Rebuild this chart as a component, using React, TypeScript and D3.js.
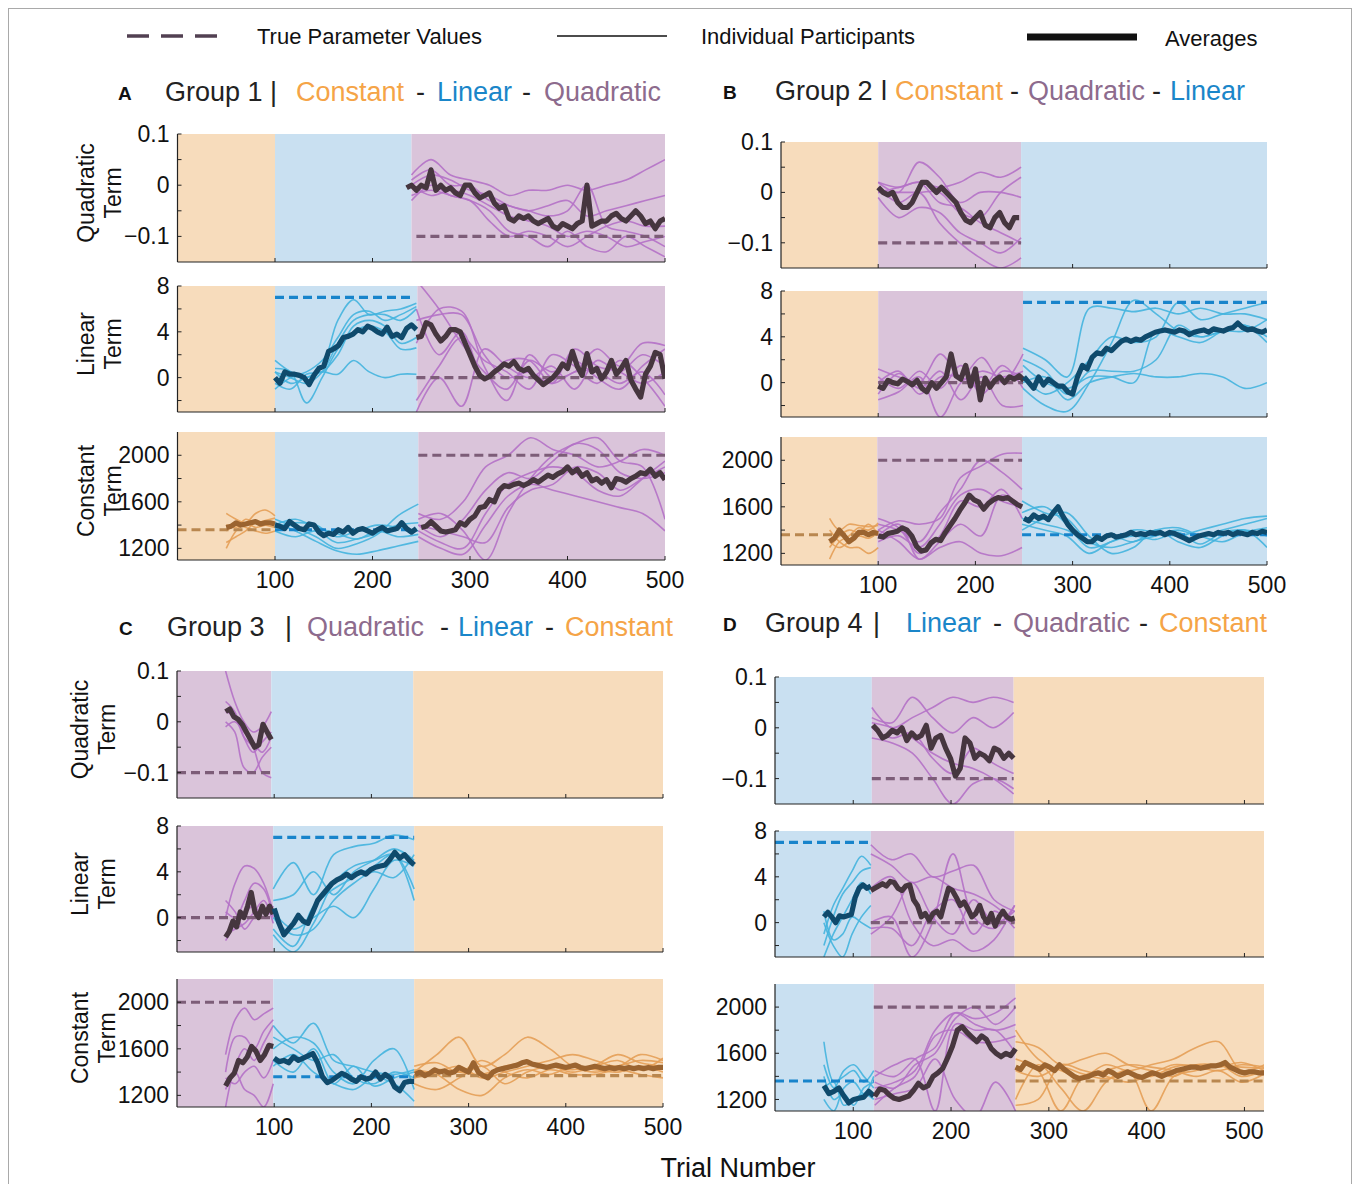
import React from "react";
import * as d3 from "d3";

type Cond = "Q" | "L" | "C";

// colours per model condition
const condColor: Record<Cond, { band: string; ind: string; avg: string; truth: string; title: string }> = {
  Q: { band: "#dac4da", ind: "#b471c6", avg: "#46363f", truth: "#7d5d78", title: "#8d6b8d" },
  L: { band: "#c9e0f1", ind: "#44b4de", avg: "#0f4a6c", truth: "#1884cb", title: "#1a86c9" },
  C: { band: "#f7dcbc", ind: "#e49e56", avg: "#9b6430", truth: "#b9874f", title: "#f5a447" },
};

const xTickValues = [100, 200, 300, 400, 500];
const yDomain: Record<Cond, [number, number]> = { Q: [-0.15, 0.1], L: [-3, 8], C: [1100, 2200] };
const yTickMarks: Record<Cond, number[]> = {
  Q: [-0.1, -0.05, 0, 0.05, 0.1],
  L: [-2, 0, 2, 4, 6, 8],
  C: [1200, 1400, 1600, 1800, 2000],
};
const yTickLabels: Record<Cond, [number, string][]> = {
  Q: [[-0.1, "\u22120.1"], [0, "0"], [0.1, "0.1"]],
  L: [[0, "0"], [4, "4"], [8, "8"]],
  C: [[1200, "1200"], [1600, "1600"], [2000, "2000"]],
};

// ---------- Group 1 (A) ----------
const aQuadAvg = [
  -0.005, 0.0, -0.01, 0.0, -0.005, 0.03, -0.01, 0.0, -0.01, -0.005,
  -0.015, -0.02, 0.0, 0.0, -0.015, -0.025, -0.02, -0.015, -0.035, -0.045,
  -0.04, -0.065, -0.07, -0.06, -0.065, -0.06, -0.07, -0.075, -0.07, -0.065,
  -0.08, -0.085, -0.075, -0.08, -0.085, -0.075, -0.07, 0.0, -0.08, -0.075,
  -0.07, -0.07, -0.06, -0.055, -0.065, -0.07, -0.06, -0.05, -0.06, -0.075,
  -0.07, -0.085, -0.07, -0.065,
];
const aQuadInd = [
  [0.02, 0.05, 0.02, 0.01, 0.0, -0.02, -0.01, -0.01, 0.0, -0.01, 0.0, 0.01, 0.03, 0.05],
  [0.01, 0.03, 0.0, 0.0, -0.03, -0.04, -0.05, -0.04, -0.03, -0.06, -0.05, -0.04, -0.03, -0.02],
  [-0.02, -0.01, -0.02, -0.03, -0.05, -0.09, -0.1, -0.12, -0.09, -0.12, -0.13, -0.1, -0.12, -0.14],
  [0.0, -0.02, -0.01, -0.02, -0.04, -0.06, -0.07, -0.08, -0.1, -0.09, -0.1, -0.12, -0.11, -0.1],
  [-0.03, 0.0, -0.02, -0.03, -0.07, -0.1, -0.09, -0.1, -0.12, -0.1, -0.08, -0.07, -0.08, -0.08],
  [0.0, 0.02, 0.01, -0.01, -0.02, -0.04, -0.05, -0.06, -0.05, 0.0, -0.08, -0.09, -0.1, -0.12],
];
const aLinBlueAvg = [
  0, -0.5, 0.5, 0.3, 0.3, 0.2, 0.0, -0.6, 0.2, 0.8,
  1.0, 2.3, 2.5, 2.8, 3.5, 3.6, 3.8, 4.2, 4.0, 4.5,
  4.3, 4.0, 3.8, 4.4, 3.6, 3.8, 3.5, 4.3, 4.6, 4.2,
];
const aLinBlueInd = [
  [1.5, 0.5, 0.0, 1.0, 5.0, 6.8, 5.5, 5.8, 6.0, 6.5],
  [0.5, 0.0, -0.5, 0.5, 3.0, 5.0, 5.5, 5.5, 5.0, 6.0],
  [-0.5, -1.0, 0.3, 0.5, 2.0, 4.5, 5.0, 4.5, 3.0, 3.5],
  [0.8, 0.5, -2.2, 0.0, 2.5, 4.0, 4.5, 4.0, 2.5, 2.6],
  [0.5, -0.5, 0.0, 0.5, 0.3, 1.5, 0.5, 0.0, 0.3, 0.3],
  [-1.0, 0.0, 0.5, 1.5, 3.5, 5.5, 5.8, 5.0, 5.5, 6.2],
];
const aLinPurpleAvg = [
  3.5, 3.6, 4.8, 4.6, 3.8, 3.2, 3.6, 4.2, 4.2, 4.0,
  3.0, 2.0, 1.0, 0.2, -0.1, 0.1, 0.5, 0.8, 1.2, 1.0,
  1.4, 0.8, 0.6, 0.8, 0.2, -0.2, -0.6, -0.3, 0.0, 0.5,
  1.2, 0.8, 2.3, 1.0, 0.2, 2.1, 0.5, 0.8, -0.1, 0.5,
  1.5, 0.3, 0.8, 1.5, -0.2, -1.0, -1.7, 0.3, 1.0, 2.2,
  2.0, -0.1,
];
const aLinPurpleInd = [
  [8.5, 6.0, 3.0, 0.5, -1.0, 1.5, 0.5, 1.5, 0.0, -1.0, 1.0, 2.5],
  [5.0, 5.5, 5.5, 2.0, 0.0, 0.5, -0.5, 2.5, 1.0, 0.5, -0.5, 0.5],
  [3.0, 6.0, 5.8, 1.0, -2.0, 2.0, 0.0, 0.5, 2.5, 1.0, 3.0, 2.8],
  [-2.0, 1.0, 3.5, 1.5, 0.5, -1.0, 2.0, 1.0, -0.5, 1.5, 0.0, -2.5],
  [-3.0, 0.0, -2.5, 2.5, 1.0, 0.0, 1.0, -1.0, 1.5, 0.5, 2.0, 1.0],
  [6.0, 2.0, 4.0, 0.0, 1.5, 1.5, -0.5, 0.5, 0.5, -0.5, 0.5, -1.5],
];
const aConOrangeAvg = [1380, 1390, 1420, 1400, 1410, 1420, 1430, 1410, 1420, 1420, 1410];
const aConOrangeInd = [
  [1500, 1450, 1420, 1500, 1530, 1480],
  [1250, 1300, 1350, 1420, 1400, 1380],
  [1400, 1380, 1450, 1420, 1440, 1460],
  [1350, 1400, 1380, 1350, 1330, 1350],
  [1200, 1350, 1420, 1380, 1400, 1420],
];
const aConBlueAvg = [
  1400, 1390, 1370, 1430, 1400, 1370, 1360, 1410, 1400, 1340,
  1310, 1330, 1320, 1360, 1340, 1380, 1330, 1360, 1370, 1350,
  1330, 1360, 1380, 1350, 1360, 1370, 1420, 1370, 1340, 1370,
];
const aConBlueInd = [
  [1450, 1380, 1300, 1200, 1240, 1320, 1480, 1580],
  [1420, 1350, 1260, 1180, 1150, 1180, 1220, 1260],
  [1380, 1420, 1400, 1300, 1350, 1400, 1380, 1350],
  [1350, 1300, 1350, 1250, 1280, 1330, 1400, 1420],
  [1400, 1450, 1380, 1330, 1280, 1350, 1300, 1320],
];
const aConPurpleAvg = [
  1380, 1390, 1430, 1390, 1350, 1340, 1350, 1360, 1420, 1400,
  1450, 1480, 1550, 1560, 1620, 1600, 1700, 1740, 1730, 1750,
  1760, 1740, 1760, 1790, 1770, 1800, 1830, 1810, 1840, 1860,
  1900, 1850, 1880, 1820, 1850, 1780, 1800, 1760, 1790, 1720,
  1800, 1790, 1770, 1800, 1820, 1850, 1840, 1880, 1820, 1850,
  1790,
];
const aConPurpleInd = [
  [1500, 1450, 1600, 1900, 2000, 2150, 2050, 2000, 1900, 1950, 2050, 2000],
  [1400, 1300, 1450, 1700, 1850, 1800, 1950, 2100, 2050, 1850, 1800, 1850],
  [1350, 1250, 1200, 1500, 1750, 1850, 1900, 1850, 1700, 1650, 1800, 1950],
  [1300, 1200, 1150, 1400, 1650, 1750, 1700, 1650, 1600, 1550, 1500, 1350],
  [1450, 1500, 1350, 1100, 1500, 1800, 2000, 2100, 2150, 1950, 1900, 1450],
  [1400, 1350, 1300, 1250, 1550, 1700, 1750, 1900, 1850, 1700, 1800, 1900],
];

// ---------- Group 2 (B) ----------
const bQuadAvg = [
  0.01, 0.0, -0.005, 0.0, -0.02, -0.03, -0.03, -0.02, 0.0, 0.02,
  0.02, 0.01, 0.0, 0.01, 0.0, -0.01, -0.02, -0.04, -0.055, -0.06,
  -0.05, -0.04, -0.065, -0.07, -0.05, -0.04, -0.06, -0.07, -0.05, -0.05,
];
const bQuadInd = [
  [0.02, 0.0, 0.06, 0.03, -0.02, 0.0, 0.0, -0.01],
  [0.0, 0.01, 0.02, 0.01, 0.02, 0.04, 0.03, 0.05],
  [-0.01, -0.05, -0.03, -0.04, -0.08, -0.1, -0.12, -0.09],
  [0.01, -0.02, 0.0, -0.06, -0.1, -0.13, -0.15, -0.13],
  [0.02, 0.01, 0.02, -0.02, -0.03, -0.06, -0.08, -0.1],
  [0.0, 0.0, 0.0, 0.0, -0.04, -0.05, 0.0, 0.03],
];
const bLinPurpleAvg = [
  -0.3, -0.5, 0.2, 0.0, -0.1, 0.3, 0.1, -0.2, 0.2, -0.5,
  -0.8, 0.0, -0.5, 0.0, 0.5, 2.5, 0.6, 0.3, 1.5, -0.3,
  1.2, -1.5, 0.4, -0.4, 0.2, 0.5, 0.0, 0.5, 0.3, 0.6,
  0.2,
];
const bLinPurpleInd = [
  [1.2, 0.5, 0.0, 2.5, 0.5, 2.2, 0.0, 2.5],
  [-1.0, 0.8, -0.5, 1.0, -1.5, 0.5, -2.0, -2.0],
  [0.5, -0.5, 1.0, -0.5, 1.5, -1.0, 1.0, 0.5],
  [-1.5, -0.8, 0.5, -3.0, 0.0, 1.0, 0.5, 1.0],
  [0.0, 1.0, -1.0, 0.5, 0.5, -0.5, 1.5, -0.5],
];
const bLinBlueAvg = [
  0.5, 0.0, -0.5, 0.5, -0.2, 0.3, 0.0, -0.3, -0.3, -0.8,
  -1.0, 0.5, 1.5, 1.2, 2.2, 2.6, 2.5, 3.0, 2.8, 3.2,
  3.6, 3.8, 3.6, 3.8, 3.7, 4.0, 4.2, 4.4, 4.5, 4.6,
  4.5, 4.4, 4.6, 4.5, 4.2, 4.4, 4.5, 4.6, 4.4, 4.7,
  4.6, 4.5, 4.7, 4.8, 5.2, 4.8, 4.6, 4.7, 4.5, 4.4,
  4.6,
];
const bLinBlueInd = [
  [3.0, 2.0, 0.5, 6.5, 6.5, 6.2, 6.5, 6.0, 6.5, 6.0, 6.0, 5.5],
  [0.5, -1.0, 0.0, 2.0, 4.0, 3.5, 4.0, 7.0, 5.5, 6.0, 6.5, 7.0],
  [-0.5, -2.0, -2.5, 0.0, 3.5, 7.2, 6.0, 4.5, 4.0, 4.5, 5.0, 4.0],
  [1.5, 0.0, -0.5, 0.5, 0.5, 0.0, 4.5, 4.0, 3.5, 4.5, 5.0, 3.5],
  [0.0, 0.5, -1.5, 0.0, 0.5, 0.8, 0.5, 0.5, 0.8, 0.5, -0.5, 0.0],
  [2.0, 1.0, -1.0, 1.0, 1.0, 1.0, 2.0, 5.0, 4.0, 4.5, 4.5, 5.5],
];
const bConOrangeAvg = [1300, 1330, 1400, 1350, 1300, 1330, 1380, 1380, 1360, 1380, 1370];
const bConOrangeInd = [
  [1500, 1400, 1450, 1440, 1430, 1440],
  [1150, 1300, 1350, 1420, 1400, 1460],
  [1400, 1300, 1250, 1250, 1200, 1250],
  [1300, 1250, 1300, 1350, 1330, 1380],
  [1250, 1350, 1400, 1380, 1450, 1360],
];
const bConPurpleAvg = [
  1350, 1340, 1370, 1380, 1390, 1420, 1400, 1350, 1260, 1220,
  1230, 1290, 1320, 1310, 1380, 1440, 1500, 1570, 1630, 1700,
  1660, 1640, 1580, 1630, 1660, 1680, 1670, 1680, 1650, 1620,
  1600,
];
const bConPurpleInd = [
  [1400, 1480, 1450, 1500, 1850, 1950, 2050, 2060],
  [1450, 1400, 1300, 1550, 1750, 2000, 1900, 1750],
  [1300, 1350, 1250, 1450, 1700, 1750, 1650, 1600],
  [1350, 1450, 1150, 1300, 1450, 1350, 1700, 1600],
  [1400, 1300, 1150, 1250, 1300, 1200, 1180, 1250],
  [1500, 1420, 1200, 1350, 1650, 1600, 1750, 1500],
];
const bConBlueAvg = [
  1500, 1480, 1530, 1500, 1520, 1490, 1550, 1600, 1520, 1450,
  1400, 1360, 1330, 1300, 1300, 1340, 1320, 1350, 1360, 1340,
  1350, 1360, 1380, 1360, 1370, 1360, 1380, 1370, 1380, 1360,
  1380, 1370, 1350, 1330, 1310, 1330, 1350, 1360, 1370, 1360,
  1380, 1370, 1380, 1360, 1380, 1370, 1360, 1380, 1370, 1390,
  1380,
];
const bConBlueInd = [
  [1650, 1550, 1500, 1300, 1250, 1300, 1350, 1400, 1350, 1400, 1450, 1500],
  [1550, 1600, 1450, 1250, 1300, 1400, 1380, 1350, 1400, 1450, 1500, 1520],
  [1400, 1500, 1550, 1350, 1200, 1250, 1400, 1300, 1250, 1350, 1400, 1250],
  [1450, 1400, 1350, 1200, 1300, 1350, 1320, 1380, 1280, 1380, 1400, 1350],
  [1500, 1450, 1400, 1300, 1350, 1300, 1400, 1420, 1350, 1300, 1380, 1420],
];

// ---------- Group 3 (C) ----------
const cQuadAvg = [0.02, 0.025, 0.01, 0.005, -0.005, -0.02, -0.035, -0.05, -0.045, -0.005, -0.02, -0.035];
const cQuadInd = [
  [0.1, 0.04, 0.0, -0.02, -0.01, 0.02],
  [0.04, 0.02, -0.03, -0.06, -0.04, -0.02],
  [0.0, -0.02, -0.09, -0.1, -0.07, -0.05],
  [0.02, 0.01, -0.03, -0.05, -0.1, -0.11],
  [-0.01, 0.0, -0.02, -0.04, -0.06, -0.03],
];
const cLinPurpleAvg = [-1.7, -1.2, -0.3, -0.8, 0.5, 0.0, 1.0, 2.2, 0.5, 0.0, 1.0, 0.3, 1.0, 0.3];
const cLinPurpleInd = [
  [0.0, 3.0, 4.5, 4.3, 3.0, 0.5],
  [-2.0, -0.5, 1.5, 3.0, 2.5, 0.0],
  [0.5, 0.0, 0.5, 1.0, 0.0, 1.0],
  [-1.5, -1.0, -0.5, 0.5, 1.5, -0.5],
  [1.5, 0.5, -1.0, 0.0, 0.5, 1.0],
];
const cLinBlueAvg = [
  0.8, -0.5, -1.5, -1.0, -0.5, 0.2, -0.3, -0.5, 0.5, 1.5,
  2.0, 2.5, 3.0, 3.3, 3.5, 3.8, 3.5, 3.8, 4.0, 3.8,
  4.2, 4.4, 4.5, 4.6, 5.1, 5.7, 5.2, 5.5, 5.0, 4.6,
];
const cLinBlueInd = [
  [2.5, 4.8, 2.0, 5.5, 6.2, 6.5, 7.2, 6.8],
  [1.5, 2.0, 4.0, 2.0, 4.0, 5.0, 6.0, 5.0],
  [-1.0, -2.5, 1.0, 2.5, 3.5, 4.5, 5.5, 2.5],
  [0.0, -1.5, -1.0, 1.5, 3.0, 4.0, 3.5, 5.5],
  [0.5, -1.0, 0.0, 1.0, 0.0, 2.5, 5.0, 4.5],
  [-1.5, -3.0, -0.5, 3.0, 4.5, 5.0, 5.5, 1.5],
];
const cConPurpleAvg = [1280, 1350, 1390, 1500, 1480, 1530, 1620, 1580, 1500, 1550, 1630, 1620];
const cConPurpleInd = [
  [1550, 1850, 1950, 1850, 1900, 1950],
  [1400, 1700, 1700, 1600, 1750, 1850],
  [1100, 1450, 1600, 1500, 1650, 1800],
  [1350, 1300, 1400, 1450, 1350, 1500],
  [1250, 1400, 1250, 1200, 1100, 1300],
];
const cConBlueAvg = [
  1520, 1490, 1500, 1480, 1530, 1500, 1520, 1540, 1560, 1480,
  1360, 1310, 1330, 1360, 1390, 1370, 1340, 1320, 1360, 1340,
  1350, 1400, 1340, 1380, 1350, 1270, 1240, 1310, 1320, 1320,
];
const cConBlueInd = [
  [1800, 1650, 1820, 1500, 1450, 1400, 1380, 1420],
  [1700, 1600, 1500, 1550, 1350, 1300, 1400, 1350],
  [1600, 1700, 1650, 1400, 1300, 1500, 1600, 1250],
  [1450, 1550, 1400, 1300, 1250, 1350, 1300, 1150],
  [1500, 1400, 1600, 1300, 1450, 1280, 1350, 1400],
];
const cConOrangeAvg = [
  1380, 1400, 1370, 1390, 1420, 1400, 1410, 1390, 1400, 1440,
  1420, 1400, 1480, 1400, 1370, 1350, 1400, 1420, 1430, 1440,
  1450, 1460, 1480, 1490, 1470, 1460, 1450, 1440, 1450, 1460,
  1450, 1440, 1450, 1460, 1440, 1430, 1440, 1450, 1440, 1430,
  1440, 1430, 1440, 1430, 1440, 1430, 1440, 1430, 1440, 1430,
  1440, 1440,
];
const cConOrangeInd = [
  [1400, 1550, 1700, 1450, 1550, 1700, 1600, 1450, 1400, 1450, 1500, 1480],
  [1350, 1400, 1450, 1350, 1400, 1450, 1500, 1550, 1500, 1450, 1550, 1500],
  [1300, 1250, 1350, 1450, 1300, 1400, 1450, 1400, 1450, 1500, 1420, 1520],
  [1420, 1380, 1250, 1200, 1350, 1420, 1380, 1450, 1420, 1400, 1450, 1400],
  [1450, 1480, 1400, 1500, 1400, 1350, 1420, 1380, 1380, 1420, 1380, 1350],
  [1350, 1420, 1400, 1380, 1450, 1480, 1450, 1420, 1460, 1550, 1480, 1450],
];

// ---------- Group 4 (D) ----------
const dQuadAvg = [
  0.005, -0.005, -0.02, -0.015, -0.005, -0.01, 0.0, -0.025, -0.01, -0.02,
  -0.015, 0.005, -0.04, -0.02, -0.015, -0.04, -0.06, -0.095, -0.08, -0.02,
  -0.03, -0.06, -0.05, -0.055, -0.065, -0.04, -0.045, -0.06, -0.05, -0.06,
];
const dQuadInd = [
  [0.04, 0.0, 0.02, 0.04, 0.06, 0.05, 0.06, 0.05],
  [0.02, 0.01, 0.06, 0.02, -0.01, 0.02, 0.0, 0.03],
  [0.0, -0.02, -0.01, -0.06, -0.09, -0.04, -0.07, -0.09],
  [-0.02, -0.03, -0.05, -0.1, -0.15, -0.11, -0.1, -0.12],
  [0.01, 0.0, -0.02, -0.05, -0.07, -0.08, -0.1, -0.13],
];
const dLinBlueAvg = [0.5, 0.9, 0.5, 0.0, 0.6, 0.5, 0.6, 0.7, 2.2, 3.0, 3.3, 3.0, 3.2];
const dLinBlueInd = [
  [-1.0, 1.5, 3.0, 4.5, 5.8, 5.0],
  [-2.0, 0.5, 2.5, 3.5, 4.5, 4.8],
  [-3.0, -1.0, 0.5, 2.0, 3.5, 2.5],
  [0.0, -2.0, -3.0, -1.0, 0.5, 1.5],
  [1.0, -1.5, -1.0, 0.5, 0.0, -0.5],
];
const dLinPurpleAvg = [
  2.8, 3.0, 3.2, 3.4, 3.2, 3.6, 3.5, 3.0, 2.8, 3.2,
  3.3, 2.0, 1.5, 0.5, 0.8, 0.2, 0.8, 1.0, 0.5, 1.8,
  3.0, 2.8, 2.2, 1.5, 1.8, 1.2, 0.5, 0.8, 1.5, 0.5,
  0.0, 0.8, -0.3, 0.5, 1.0, 0.5, 0.3, 0.4,
];
const dLinPurpleInd = [
  [6.8, 5.5, 6.0, 4.0, 4.5, 5.0, 2.0, 1.0],
  [6.0, 5.0, 3.5, 4.0, 3.0, 2.5, 1.5, 0.0],
  [0.0, 0.5, -3.0, 0.0, 6.0, 0.5, -0.5, 1.5],
  [-1.0, 0.5, 3.5, 0.5, -1.0, 2.0, 0.0, 1.0],
  [3.0, 4.0, 0.0, -2.0, -1.5, -2.5, -1.5, 1.5],
  [-0.5, -0.5, -2.0, 1.0, 2.0, -1.0, 1.0, -0.5],
];
const dConBlueAvg = [1320, 1250, 1270, 1300, 1230, 1170, 1200, 1210, 1220, 1270, 1230];
const dConBlueInd = [
  [1700, 1350, 1400, 1450, 1350, 1450],
  [1500, 1300, 1450, 1500, 1400, 1300],
  [1200, 1100, 1300, 1350, 1250, 1400],
  [1400, 1200, 1250, 1150, 1300, 1350],
  [1300, 1350, 1150, 1200, 1250, 1200],
];
const dConPurpleAvg = [
  1227, 1290, 1280, 1240, 1210, 1200, 1215, 1230, 1280, 1340,
  1300, 1320, 1400, 1430, 1470, 1560, 1660, 1800, 1830, 1780,
  1740, 1700, 1750, 1720, 1640, 1600, 1570, 1600, 1580, 1640,
];
const dConPurpleInd = [
  [1450, 1400, 1550, 1650, 1950, 1900, 1950, 2080],
  [1350, 1300, 1500, 1600, 1900, 2000, 1850, 2000],
  [1300, 1350, 1450, 1800, 1950, 1850, 1800, 1850],
  [1150, 1300, 1400, 1750, 1800, 1700, 1700, 1750],
  [1400, 1500, 1550, 1100, 1850, 1800, 1800, 1600],
  [1200, 1250, 1300, 1550, 1200, 1050, 1350, 1100],
];
const dConOrangeAvg = [
  1480, 1460, 1520, 1500, 1480, 1460, 1500, 1480, 1450, 1500,
  1460, 1430, 1400, 1380, 1390, 1400, 1420, 1430, 1410, 1450,
  1430, 1400, 1420, 1440, 1420, 1400, 1390, 1410, 1430, 1420,
  1400, 1420, 1430, 1450, 1460, 1470, 1480, 1480, 1470, 1480,
  1490, 1490, 1500, 1520, 1480, 1460, 1440, 1430, 1440, 1440,
  1430, 1430,
];
const dConOrangeInd = [
  [1800, 1550, 1450, 1400, 1500, 1450, 1500, 1550, 1650, 1700, 1450, 1500],
  [1700, 1650, 1500, 1550, 1600, 1500, 1450, 1400, 1500, 1500, 1480, 1470],
  [1200, 1500, 1300, 1100, 1350, 1450, 1100, 1400, 1450, 1500, 1400, 1450],
  [1550, 1450, 1100, 1400, 1450, 1500, 1480, 1450, 1400, 1450, 1350, 1420],
  [1150, 1200, 1500, 1450, 1400, 1350, 1420, 1500, 1480, 1450, 1500, 1480],
  [1450, 1400, 1480, 1420, 1380, 1420, 1400, 1480, 1500, 1480, 1520, 1450],
];

type Seg = { panel: string; cond: Cond; avgSpan: [number, number]; avg: number[]; indSpan: [number, number]; ind: number[][] };

const segments: Seg[] = [
  { panel: "AQ", cond: "Q", avgSpan: [235, 500], avg: aQuadAvg, indSpan: [240, 500], ind: aQuadInd },
  { panel: "AL", cond: "L", avgSpan: [100, 245], avg: aLinBlueAvg, indSpan: [100, 245], ind: aLinBlueInd },
  { panel: "AL", cond: "Q", avgSpan: [245, 500], avg: aLinPurpleAvg, indSpan: [245, 500], ind: aLinPurpleInd },
  { panel: "AC", cond: "C", avgSpan: [50, 100], avg: aConOrangeAvg, indSpan: [50, 100], ind: aConOrangeInd },
  { panel: "AC", cond: "L", avgSpan: [100, 245], avg: aConBlueAvg, indSpan: [100, 247], ind: aConBlueInd },
  { panel: "AC", cond: "Q", avgSpan: [250, 500], avg: aConPurpleAvg, indSpan: [247, 500], ind: aConPurpleInd },
  { panel: "BQ", cond: "Q", avgSpan: [100, 245], avg: bQuadAvg, indSpan: [100, 247], ind: bQuadInd },
  { panel: "BL", cond: "Q", avgSpan: [100, 250], avg: bLinPurpleAvg, indSpan: [100, 249], ind: bLinPurpleInd },
  { panel: "BL", cond: "L", avgSpan: [250, 500], avg: bLinBlueAvg, indSpan: [249, 500], ind: bLinBlueInd },
  { panel: "BC", cond: "C", avgSpan: [50, 100], avg: bConOrangeAvg, indSpan: [50, 100], ind: bConOrangeInd },
  { panel: "BC", cond: "Q", avgSpan: [100, 248], avg: bConPurpleAvg, indSpan: [100, 248], ind: bConPurpleInd },
  { panel: "BC", cond: "L", avgSpan: [250, 500], avg: bConBlueAvg, indSpan: [248, 500], ind: bConBlueInd },
  { panel: "CQ", cond: "Q", avgSpan: [50, 97], avg: cQuadAvg, indSpan: [50, 97], ind: cQuadInd },
  { panel: "CL", cond: "Q", avgSpan: [50, 99], avg: cLinPurpleAvg, indSpan: [50, 99], ind: cLinPurpleInd },
  { panel: "CL", cond: "L", avgSpan: [100, 244], avg: cLinBlueAvg, indSpan: [99, 244], ind: cLinBlueInd },
  { panel: "CC", cond: "Q", avgSpan: [50, 99], avg: cConPurpleAvg, indSpan: [50, 99], ind: cConPurpleInd },
  { panel: "CC", cond: "L", avgSpan: [100, 244], avg: cConBlueAvg, indSpan: [99, 244], ind: cConBlueInd },
  { panel: "CC", cond: "C", avgSpan: [245, 500], avg: cConOrangeAvg, indSpan: [244, 500], ind: cConOrangeInd },
  { panel: "DQ", cond: "Q", avgSpan: [120, 264], avg: dQuadAvg, indSpan: [119, 264], ind: dQuadInd },
  { panel: "DL", cond: "L", avgSpan: [70, 118], avg: dLinBlueAvg, indSpan: [70, 118], ind: dLinBlueInd },
  { panel: "DL", cond: "Q", avgSpan: [118, 265], avg: dLinPurpleAvg, indSpan: [118, 265], ind: dLinPurpleInd },
  { panel: "DC", cond: "L", avgSpan: [70, 121], avg: dConBlueAvg, indSpan: [70, 121], ind: dConBlueInd },
  { panel: "DC", cond: "Q", avgSpan: [122, 266], avg: dConPurpleAvg, indSpan: [122, 266], ind: dConPurpleInd },
  { panel: "DC", cond: "C", avgSpan: [266, 520], avg: dConOrangeAvg, indSpan: [266, 520], ind: dConOrangeInd },
];

// true parameter values: panel, condition, value, from trial, to trial
const truths: [string, Cond, number, number, number][] = [
  ["AQ", "Q", -0.1, 245, 500],
  ["AL", "L", 7, 100, 240], ["AL", "Q", 0, 245, 500],
  ["AC", "C", 1360, 0, 100], ["AC", "L", 1360, 100, 245], ["AC", "Q", 2000, 247, 500],
  ["BQ", "Q", -0.1, 100, 247],
  ["BL", "Q", 0, 100, 249], ["BL", "L", 7, 249, 500],
  ["BC", "C", 1360, 0, 100], ["BC", "Q", 2000, 100, 248], ["BC", "L", 1360, 248, 500],
  ["CQ", "Q", -0.1, 0, 97],
  ["CL", "Q", 0, 0, 99], ["CL", "L", 7, 99, 244],
  ["CC", "Q", 2000, 0, 99], ["CC", "L", 1360, 99, 244], ["CC", "C", 1370, 244, 500],
  ["DQ", "Q", -0.1, 119, 264],
  ["DL", "L", 7, 20, 118], ["DL", "Q", 0, 118, 265],
  ["DC", "L", 1360, 20, 121], ["DC", "Q", 2000, 121, 266], ["DC", "C", 1360, 266, 520],
];

// block order per panel
const bands: Record<string, [Cond, number, number][]> = {
  AQ: [["C", 0, 100], ["L", 100, 240], ["Q", 240, 500]],
  AL: [["C", 0, 100], ["L", 100, 246], ["Q", 246, 500]],
  AC: [["C", 0, 100], ["L", 100, 247], ["Q", 247, 500]],
  BQ: [["C", 0, 100], ["Q", 100, 247], ["L", 247, 500]],
  BL: [["C", 0, 100], ["Q", 100, 249], ["L", 249, 500]],
  BC: [["C", 0, 99], ["Q", 99, 248], ["L", 248, 500]],
  CQ: [["Q", 0, 97], ["L", 97, 243], ["C", 243, 500]],
  CL: [["Q", 0, 99], ["L", 99, 244], ["C", 244, 500]],
  CC: [["Q", 0, 99], ["L", 99, 244], ["C", 244, 500]],
  DQ: [["L", 20, 119], ["Q", 119, 264], ["C", 264, 520]],
  DL: [["L", 20, 118], ["Q", 118, 265], ["C", 265, 520]],
  DC: [["L", 20, 121], ["Q", 121, 266], ["C", 266, 520]],
};

// panel placement
const layout: Record<string, { x: [number, number]; xDom: [number, number]; y: [number, number] }> = {
  AQ: { x: [177.5, 665], xDom: [0, 500], y: [134, 262] },
  AL: { x: [177.5, 665], xDom: [0, 500], y: [286, 412] },
  AC: { x: [177.5, 665], xDom: [0, 500], y: [432, 560] },
  BQ: { x: [781, 1267], xDom: [0, 500], y: [142, 268] },
  BL: { x: [781, 1267], xDom: [0, 500], y: [291, 417] },
  BC: { x: [781, 1267], xDom: [0, 500], y: [437, 565] },
  CQ: { x: [177, 663], xDom: [0, 500], y: [671, 798] },
  CL: { x: [177, 663], xDom: [0, 500], y: [826, 952] },
  CC: { x: [177, 663], xDom: [0, 500], y: [979, 1107] },
  DQ: { x: [775, 1264], xDom: [20, 520], y: [677, 804] },
  DL: { x: [775, 1264], xDom: [20, 520], y: [831, 957] },
  DC: { x: [775, 1264], xDom: [20, 520], y: [984, 1111] },
};

const titles: { letter: string; lx: number; y: number; words: [string, number, Cond | null][] }[] = [
  { letter: "A", lx: 118, y: 101, words: [["Group 1", 165, null], ["|", 270, null], ["Constant", 296, "C"], ["-", 416, null], ["Linear", 437, "L"], ["-", 522, null], ["Quadratic", 544, "Q"]] },
  { letter: "B", lx: 723, y: 100, words: [["Group 2", 775, null], ["l", 881, null], ["Constant", 895, "C"], ["-", 1010, null], ["Quadratic", 1028, "Q"], ["-", 1152, null], ["Linear", 1170, "L"]] },
  { letter: "C", lx: 119, y: 636, words: [["Group 3", 167, null], ["|", 285, null], ["Quadratic", 307, "Q"], ["-", 440, null], ["Linear", 458, "L"], ["-", 545, null], ["Constant", 565, "C"]] },
  { letter: "D", lx: 723, y: 632, words: [["Group 4", 765, null], ["|", 873, null], ["Linear", 906, "L"], ["-", 993, null], ["Quadratic", 1013, "Q"], ["-", 1139, null], ["Constant", 1159, "C"]] },
];

const termNames: Record<Cond, string> = { Q: "Quadratic", L: "Linear", C: "Constant" };

const FONT = "'Liberation Sans', Arial, Helvetica, sans-serif";

const spread = (span: [number, number], vals: number[]): [number, number][] =>
  vals.map((v, i) => [span[0] + (i * (span[1] - span[0])) / (vals.length - 1), v]);

function PanelView({ id }: { id: string }) {
  const lay = layout[id];
  const term = id[1] as Cond;
  const x = d3.scaleLinear().domain(lay.xDom).range(lay.x);
  const y = d3.scaleLinear().domain(yDomain[term]).range([lay.y[1], lay.y[0]]);
  const [top, bottom] = lay.y;
  const clip = `clip-${id}`;
  const segs = segments.filter((s) => s.panel === id);
  const thin = d3
    .line<[number, number]>()
    .x((d) => x(d[0]))
    .y((d) => y(d[1]))
    .curve(d3.curveCatmullRom.alpha(0.5));
  const thick = d3
    .line<[number, number]>()
    .x((d) => x(d[0]))
    .y((d) => y(d[1]));

  return (
    <g>
      <defs>
        <clipPath id={clip}>
          <rect x={lay.x[0]} y={top} width={lay.x[1] - lay.x[0]} height={bottom - top} />
        </clipPath>
      </defs>
      {bands[id].map(([c, a, b], i) => (
        <rect key={i} x={x(a)} y={top} width={x(b) - x(a)} height={bottom - top} fill={condColor[c].band} />
      ))}
      <g clipPath={`url(#${clip})`}>
        {segs.map((s, si) =>
          s.ind.map((vals, k) => (
            <path
              key={`i${si}-${k}`}
              d={thin(spread(s.indSpan, vals)) || ""}
              fill="none"
              stroke={condColor[s.cond].ind}
              strokeWidth={1.6}
              strokeOpacity={0.9}
            />
          ))
        )}
        {truths
          .filter((t) => t[0] === id)
          .map(([, c, v, a, b], i) => (
            <line
              key={`t${i}`}
              x1={x(a)}
              x2={x(b)}
              y1={y(v)}
              y2={y(v)}
              stroke={condColor[c].truth}
              strokeWidth={3.2}
              strokeDasharray="9 5"
            />
          ))}
        {segs.map((s, si) => (
          <path
            key={`a${si}`}
            d={thick(spread(s.avgSpan, s.avg)) || ""}
            fill="none"
            stroke={condColor[s.cond].avg}
            strokeWidth={5.2}
            strokeLinejoin="round"
          />
        ))}
      </g>
      {/* axes */}
      <line x1={lay.x[0]} x2={lay.x[0]} y1={top} y2={bottom} stroke="#222" strokeWidth={1.2} />
      <line x1={lay.x[0]} x2={lay.x[1]} y1={bottom} y2={bottom} stroke="#222" strokeWidth={1.2} />
      {yTickMarks[term].map((v) => (
        <line key={`yt${v}`} x1={lay.x[0]} x2={lay.x[0] + 4} y1={y(v)} y2={y(v)} stroke="#222" />
      ))}
      {xTickValues.map((v) => (
        <line key={`xt${v}`} x1={x(v)} x2={x(v)} y1={bottom} y2={bottom - 4} stroke="#222" />
      ))}
      {yTickLabels[term].map(([v, s]) => (
        <text key={`yl${v}`} x={lay.x[0] - 8} y={y(v)} dy="0.35em" textAnchor="end" fontSize={23} fill="#111">
          {s}
        </text>
      ))}
      {term === "C" &&
        xTickValues.map((v) => (
          <text key={`xl${v}`} x={x(v)} y={bottom + 28} textAnchor="middle" fontSize={23} fill="#111">
            {v}
          </text>
        ))}
    </g>
  );
}

function YTitle({ id, dx }: { id: string; dx: number }) {
  const lay = layout[id];
  const term = id[1] as Cond;
  const cy = (lay.y[0] + lay.y[1]) / 2 - 5;
  const lines = [termNames[term], "Term"];
  return (
    <g>
      {lines.map((s, i) => {
        const cx = lay.x[0] + dx + i * 27;
        return (
          <text
            key={s}
            transform={`translate(${cx},${cy}) rotate(-90)`}
            textAnchor="middle"
            dy="0.35em"
            fontSize={23}
            fill="#111"
          >
            {s}
          </text>
        );
      })}
    </g>
  );
}

function Legend() {
  return (
    <g fontSize={22} fill="#111">
      <line x1={127} x2={222} y1={36} y2={36} stroke="#524052" strokeWidth={3.5} strokeDasharray="22 12" />
      <text x={257} y={44}>True Parameter Values</text>
      <line x1={557} x2={667} y1={36} y2={36} stroke="#111" strokeWidth={1.6} />
      <text x={701} y={44}>Individual Participants</text>
      <line x1={1027} x2={1137} y1={37} y2={37} stroke="#111" strokeWidth={7} />
      <text x={1165} y={46}>Averages</text>
    </g>
  );
}

export default function App() {
  return (
    <svg
      width={1356}
      height={1184}
      style={{ position: "absolute", left: 0, top: 0, background: "#fff" }}
      fontFamily={FONT}
    >
      <rect x={0} y={0} width={1356} height={1184} fill="#fff" />
      <rect x={8.5} y={8.5} width={1343} height={1200} fill="none" stroke="#a9a9a9" />
      <Legend />
      {titles.map((t) => (
        <g key={t.letter}>
          <text x={t.lx} y={t.y - 1} fontSize={19} fontWeight="bold" fill="#111">
            {t.letter}
          </text>
          {t.words.map(([w, wx, c], i) => (
            <text key={i} x={wx} y={t.y} fontSize={27} fill={c ? condColor[c].title : "#222"}>
              {w}
            </text>
          ))}
        </g>
      ))}
      {Object.keys(layout).map((id) => (
        <PanelView key={id} id={id} />
      ))}
      {["AQ", "AL", "AC"].map((id) => (
        <YTitle key={id} id={id} dx={-92} />
      ))}
      {["CQ", "CL", "CC"].map((id) => (
        <YTitle key={id} id={id} dx={-97} />
      ))}
      <text x={738} y={1177} textAnchor="middle" fontSize={27} fill="#111">
        Trial Number
      </text>
    </svg>
  );
}
